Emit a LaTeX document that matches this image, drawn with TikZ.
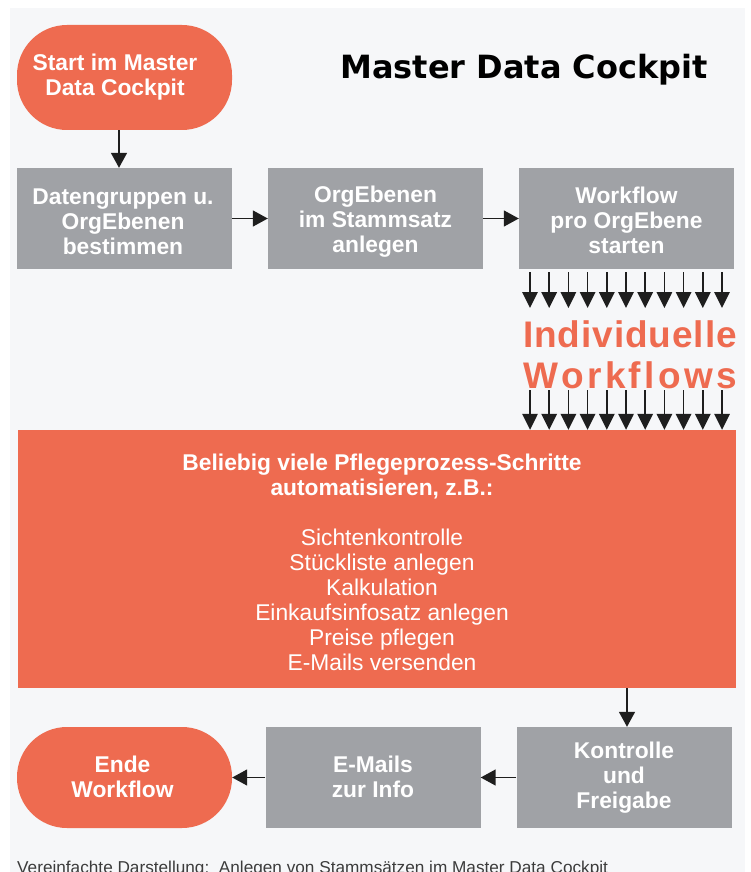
\documentclass[tikz,border=0pt]{standalone}
\usepackage{fontspec}
\setmainfont{Liberation Sans}
\newfontfamily\titlefont{DejaVu Sans}
\usetikzlibrary{arrows.meta}
\definecolor{mdcred}{RGB}{238,107,80}
\definecolor{mdcgray}{RGB}{160,162,166}
\definecolor{mdcbg}{RGB}{246,247,249}
\definecolor{mdcarrow}{RGB}{30,30,30}
\definecolor{mdccap}{RGB}{60,60,60}
\begin{document}
\begin{tikzpicture}[x=1pt,y=-1pt,
  graybox/.style={fill=mdcgray, minimum width=215pt, minimum height=101pt, inner sep=0pt},
  pill/.style={fill=mdcred, rounded corners=50pt, minimum width=215pt, minimum height=#1, inner sep=0pt},
  pill/.default=105pt,
  redbox/.style={fill=mdcred, minimum width=718pt, minimum height=258pt, inner sep=0pt},
  boxtext/.style={text=white, font=\bfseries\fontsize{22.8}{25}\selectfont, align=center, inner sep=0pt},
  redtext/.style={text=white, font=\fontsize{22.8}{25}\selectfont, align=center, inner sep=0pt},
  arr/.style={draw=mdcarrow, line width=1.5pt, -{Triangle[width=16pt,length=15pt]}},
  smallarr/.style={draw=mdcarrow, line width=1.6pt, -{Triangle[width=15.5pt,length=16pt]}},
  bigword/.style={anchor=base, text=mdcred, font=\bfseries\fontsize{37}{42}\selectfont, inner sep=0pt}
]
\clip (0,0) rectangle (750,872);
\fill[white] (0,0) rectangle (750,872);
\fill[mdcbg] (10,8) rectangle (745,872);

% title
\node[anchor=base, inner sep=0pt, font=\titlefont\bfseries\fontsize{32}{38}\selectfont] (title) at (524,79) {Master Data Cockpit};

% top row
\node[pill] (start) at (124.5,77.5) {};
\node[boxtext] (starttext) at (115,77) {Start im Master\\Data Cockpit};
\node[graybox] (box1) at (124.5,218.5) {};
\node[boxtext] (box1text) at (123,222) {Datengruppen u.\\OrgEbenen\\bestimmen};
\node[graybox] (box2) at (375.5,218.5) {};
\node[boxtext] (box2text) at (375.5,222) {OrgEbenen\\im Stammsatz\\anlegen};
\node[graybox] (box3) at (626.5,218.5) {};
\node[boxtext] (box3text) at (626.5,220) {Workflow\\pro OrgEbene\\starten};

\draw[arr] ([xshift=-5.5pt]start.south) -- ([xshift=-5.5pt]box1.north);
\draw[arr] (box1.east) -- (box2.west);
\draw[arr] (box2.east) -- (box3.west);

% individual workflows
\node[bigword] (indiv1) at (630,347) {\makebox[214pt][s]{I\hfil n\hfil d\hfil i\hfil v\hfil i\hfil d\hfil u\hfil e\hfil l\hfil l\hfil e}};
\node[bigword] (indiv2) at (630,388) {\makebox[214pt][s]{W\hfil o\hfil r\hfil k\hfil f\hfil l\hfil o\hfil w\hfil s}};

% big red box
\node[redbox] (red) at (377,559) {};
\node[redtext] (redtext) at (382,562) {\textbf{Beliebig viele Pflegeprozess-Schritte}\\\textbf{automatisieren, z.B.:}\\[25pt]Sichtenkontrolle\\Stückliste anlegen\\Kalkulation\\Einkaufsinfosatz anlegen\\Preise pflegen\\E-Mails versenden};

\foreach \i in {0,...,10} {
  \pgfmathsetmacro\ax{530+19.2*\i}
  \coordinate (ts\i) at (\ax,272);
  \coordinate (te\i) at (\ax,308);
  \draw[smallarr] (ts\i) -- (te\i);
  \coordinate (bs\i) at (\ax,390);
  \draw[smallarr] (bs\i) -- (bs\i |- red.north);
}

% bottom row
\node[graybox] (kontrolle) at (624,777.5) {};
\node[boxtext] (kontrolletext) at (624,778) {Kontrolle\\und\\Freigabe};
\node[graybox] (emails) at (373,777.5) {};
\node[boxtext] (emailstext) at (373,777) {E-Mails\\zur Info};
\node[pill=101pt] (ende) at (124.5,777.5) {};
\node[boxtext] (endetext) at (122.5,777) {Ende\\Workflow};

\draw[arr] ([xshift=3pt]red.south -| kontrolle.north) -- ([xshift=3pt]kontrolle.north);
\draw[arr] (kontrolle.west) -- (emails.east);
\draw[arr] (emails.west) -- (ende.east);

% caption
\node[anchor=base west, inner sep=0pt, text=mdccap, font=\fontsize{17.2}{20}\selectfont] (caption) at (17,873) {Vereinfachte Darstellung:\ \ Anlegen von Stammsätzen im Master Data Cockpit};
\end{tikzpicture}
\end{document}
